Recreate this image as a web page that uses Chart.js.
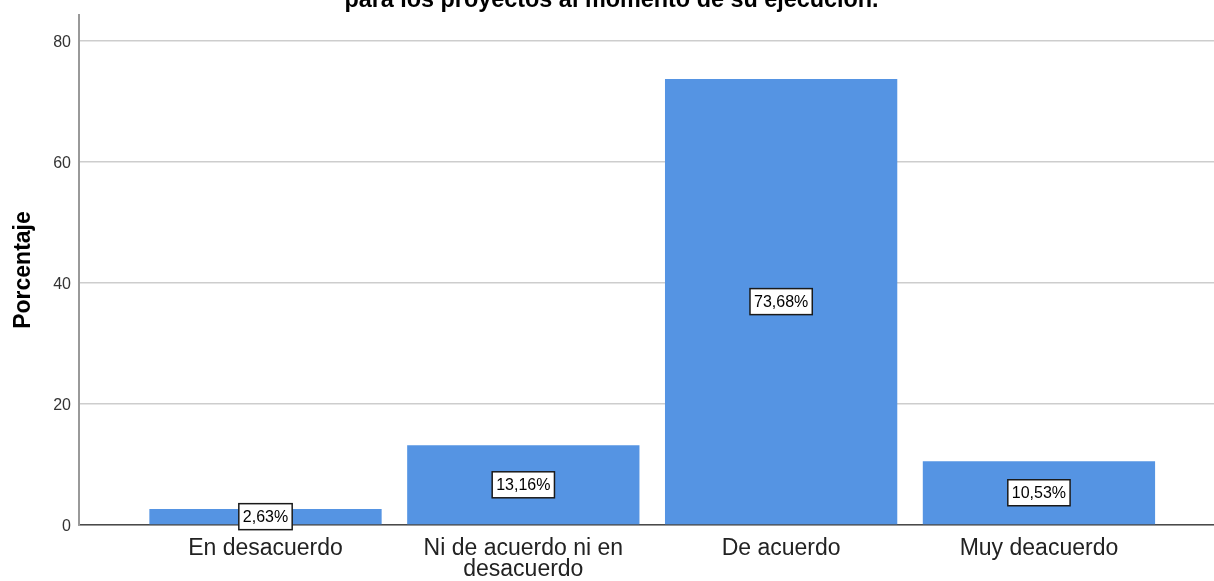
<!DOCTYPE html>
<html>
<head>
<meta charset="utf-8">
<script src="https://cdn.jsdelivr.net/npm/chart.js@4/dist/chart.umd.min.js"></script>
<style>
html, body { margin: 0; padding: 0; background: #ffffff; }
#c { display: block; }
</style>
</head>
<body>
<canvas id="c" width="1214" height="581"></canvas>
<script>
// ---- data ----
const categories = ["En desacuerdo", "Ni de acuerdo ni en desacuerdo", "De acuerdo", "Muy deacuerdo"];
const categoryLines = [["En desacuerdo"], ["Ni de acuerdo ni en", "desacuerdo"], ["De acuerdo"], ["Muy deacuerdo"]];
const percentages = [2.63, 13.16, 73.68, 10.53];
const yTicks = [0, 20, 40, 60, 80];
const titleText = "para los proyectos al momento de su ejecución.";
const yAxisTitle = "Porcentaje";

const FONT = "'Liberation Sans', Arial, Helvetica, sans-serif";
const fmt = v => v.toFixed(2).replace('.', ',') + '%';

const labelPlugin = {
  id: 'labelPlugin',
  afterDatasetsDraw(chart) {
    const ctx = chart.ctx;
    const meta = chart.getDatasetMeta(0);
    ctx.save();
    ctx.font = '16px ' + FONT;
    meta.data.forEach((bar, i) => {
      const p = bar.getProps(['x', 'y', 'base'], true);
      const cy = (p.y + p.base) / 2;
      const txt = fmt(percentages[i]);
      const w = ctx.measureText(txt).width + 8;
      const h = 26;
      ctx.fillStyle = '#ffffff';
      ctx.fillRect(p.x - w / 2, cy - h / 2, w, h);
      ctx.strokeStyle = '#1a1a1a';
      ctx.lineWidth = 1.5;
      ctx.strokeRect(p.x - w / 2, cy - h / 2, w, h);
      ctx.fillStyle = '#000000';
      ctx.textAlign = 'center';
      ctx.textBaseline = 'middle';
      ctx.fillText(txt, p.x, cy + 1);
    });
    ctx.restore();
  },
  afterDraw(chart) {
    const ctx = chart.ctx;
    ctx.save();
    ctx.font = 'bold 23.4px ' + FONT;
    ctx.fillStyle = '#000000';
    ctx.textAlign = 'center';
    ctx.textBaseline = 'alphabetic';
    ctx.fillText(titleText, 611.5, 6.5);
    ctx.restore();
  }
};

new Chart(document.getElementById('c'), {
  type: 'bar',
  data: {
    datasets: [{
      data: percentages.map((v, i) => ({ x: i, y: v })),
      backgroundColor: '#5594e3',
      borderWidth: 0,
      barPercentage: 0.901,
      categoryPercentage: 1
    }]
  },
  options: {
    responsive: false,
    animation: false,
    devicePixelRatio: 1,
    layout: { padding: { top: 15, left: 0, right: 0, bottom: 0 } },
    plugins: {
      legend: { display: false },
      tooltip: { enabled: false },
      title: { display: false }
    },
    scales: {
      x: {
        type: 'linear',
        min: -0.7234,
        max: 3.679,
        offset: false,
        grid: { display: false, drawTicks: false },
        border: { display: true, color: '#4a4a4a', width: 1.5 },
        afterBuildTicks: s => { s.ticks = categories.map((_, i) => ({ value: i })); },
        afterFit: s => { s.height = 56; s.paddingLeft = 0; s.paddingRight = 0; },
        ticks: {
          autoSkip: false,
          maxRotation: 0,
          minRotation: 0,
          padding: 13.7,
          color: '#222222',
          font: { family: FONT, size: 23, lineHeight: 0.9 },
          callback: v => categoryLines[v]
        }
      },
      y: {
        type: 'linear',
        min: 0,
        max: 84.25,
        grid: { color: '#cdcdcd', lineWidth: 1.5, drawTicks: false },
        border: { display: true, color: '#999999', width: 2 },
        afterBuildTicks: s => { s.ticks = yTicks.map(v => ({ value: v })); },
        afterFit: s => { s.width = 79; s.paddingTop = 0; s.paddingBottom = 0; },
        ticks: {
          padding: 8,
          labelOffset: 1.5,
          color: '#333333',
          font: { family: FONT, size: 16 }
        },
        title: {
          display: true,
          text: yAxisTitle,
          color: '#000000',
          font: { family: FONT, size: 23, weight: 'bold', lineHeight: 1.2 },
          padding: { top: 10, bottom: 0 }
        }
      }
    }
  },
  plugins: [labelPlugin]
});
</script>
</body>
</html>
